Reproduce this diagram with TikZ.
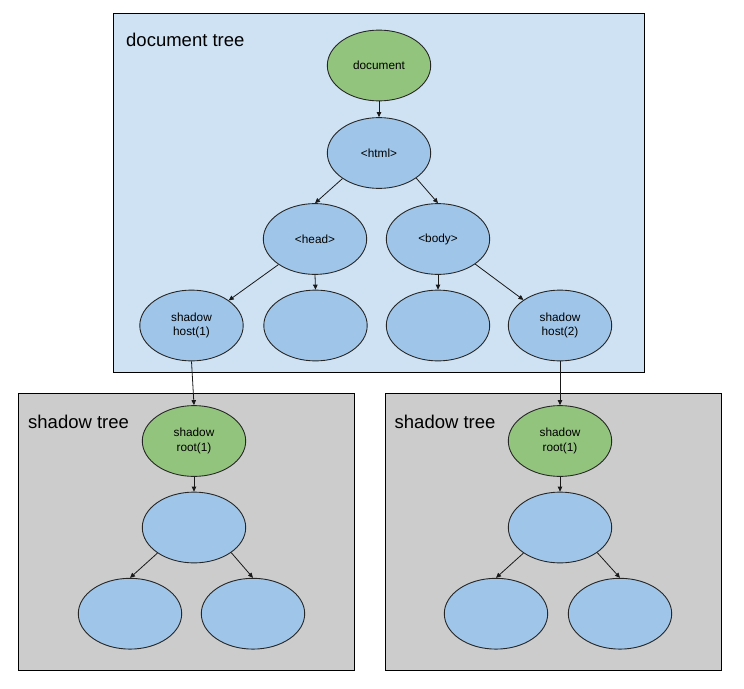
\documentclass[tikz,border=0pt]{standalone}
\usepackage{fontspec}
\setmainfont{Liberation Sans}
\usetikzlibrary{shapes.geometric,arrows.meta}
\definecolor{docbg}{HTML}{CFE2F3}
\definecolor{shbg}{HTML}{CCCCCC}
\definecolor{greenfill}{HTML}{93C47D}
\definecolor{bluefill}{HTML}{9FC5E8}
\tikzset{
  panel/.style={draw=black, line width=0.9pt},
  elnode/.style={ellipse, draw=black!85, line width=0.9pt, minimum width=103.4pt, minimum height=70.8pt, inner sep=0pt, align=center, font=\fontsize{11.8}{14.2}\selectfont},
  greennode/.style={elnode, fill=greenfill},
  bluenode/.style={elnode, fill=bluefill},
  title/.style={anchor=base west, inner sep=0pt, font=\fontsize{18.5}{22}\selectfont},
  conn/.style={draw=black!90, line width=0.8pt, -{Triangle[length=5pt,width=4.5pt]}}
}
\begin{document}
\begin{tikzpicture}[x=1pt,y=-1pt]
\useasboundingbox (0,0) rectangle (744,688);
% panels
\draw[panel, fill=docbg] (113.5,13.5) rectangle (644,372);
\draw[panel, fill=shbg] (18.5,393.5) rectangle (354.5,670);
\draw[panel, fill=shbg] (385,393.5) rectangle (721.5,670);
% titles
\node[title] (t1) at (126,46) {document tree};
\node[title] (t2) at (28,428.5) {shadow tree};
\node[title] (t3) at (394.5,428.5) {shadow tree};
% document tree
\node[greennode] (doc) at (379,65.5) {document};
\node[bluenode] (html) at (379,153) {<html>};
\node[bluenode] (head) at (315,239) {<head>};
\node[bluenode] (body) at (438,239) {<body>};
\node[bluenode] (host1) at (191.5,325.5) {shadow\\host(1)};
\node[bluenode] (e1) at (315.5,325.5) {};
\node[bluenode] (e2) at (438,325.5) {};
\node[bluenode] (host2) at (560,325.5) {shadow\\host(2)};
% left shadow tree
\node[greennode] (root1) at (194,441) {shadow\\root(1)};
\node[bluenode] (m1) at (194,527.5) {};
\node[bluenode] (l1) at (130,613.7) {};
\node[bluenode] (r1) at (253,613.7) {};
% right shadow tree
\node[greennode] (root2) at (560,441) {shadow\\root(1)};
\node[bluenode] (m2) at (560,527.5) {};
\node[bluenode] (l2) at (496,613.7) {};
\node[bluenode] (r2) at (620,613.7) {};
% connectors
\draw[conn] (doc.south) -- (html.north);
\draw[conn] (html.-145.5) -- (head.north);
\draw[conn] (html.-34.5) -- (body.north);
\draw[conn] (head.-145.5) -- (host1.34.5);
\draw[conn] (head.south) -- (e1.north);
\draw[conn] (body.south) -- (e2.north);
\draw[conn] (body.-34.5) -- (host2.145.5);
\draw[conn] (host1.south) -- (root1.north);
\draw[conn] (host2.south) -- (root2.north);
\draw[conn] (root1.south) -- (m1.north);
\draw[conn] (m1.-145.5) -- (l1.north);
\draw[conn] (m1.-34.5) -- (r1.north);
\draw[conn] (root2.south) -- (m2.north);
\draw[conn] (m2.-145.5) -- (l2.north);
\draw[conn] (m2.-34.5) -- (r2.north);
\end{tikzpicture}
\end{document}
